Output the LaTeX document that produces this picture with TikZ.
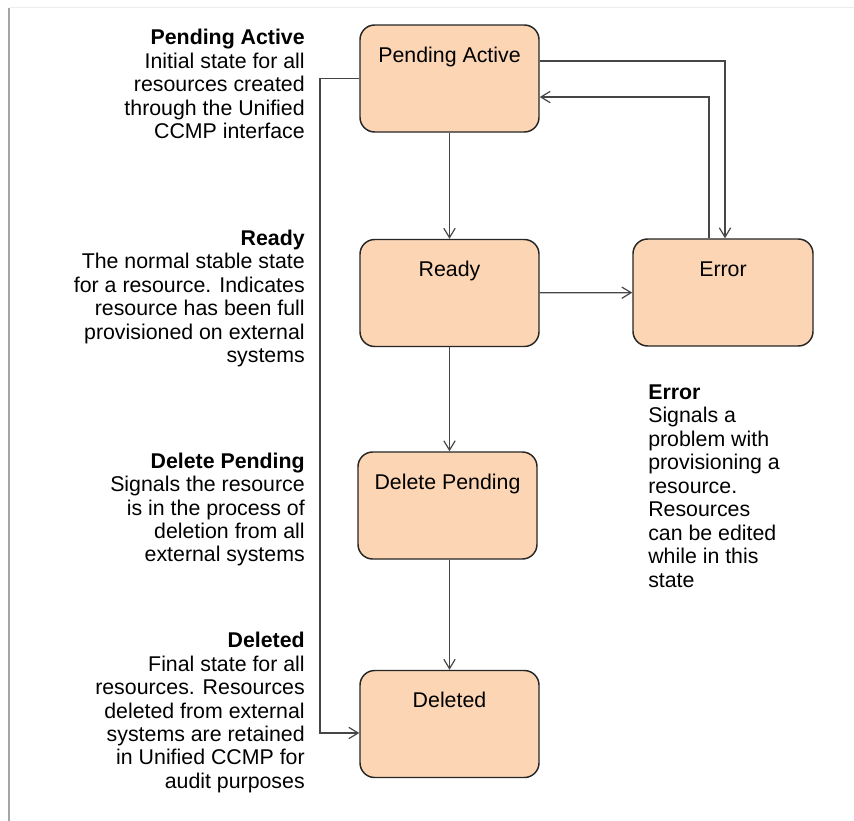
\documentclass[tikz,border=0pt]{standalone}
\usepackage{fontspec}
\setmainfont{Liberation Sans}
\usetikzlibrary{arrows.meta, positioning}
\definecolor{statefill}{RGB}{251, 213, 180}
\definecolor{linegray}{RGB}{70, 70, 70}
\definecolor{framegray}{RGB}{165, 165, 165}
\newcommand{\diagfont}{\fontsize{16}{17.6}\selectfont}

\begin{document}
\begin{tikzpicture}[x=0.75pt, y=-0.75pt,
  statebox/.style={draw=black!85, line width=1.1pt, fill=statefill, rounded corners=11pt,
    minimum width=134.25pt, inner sep=0pt, text height=27.75pt, text depth=52.5pt, font=\diagfont},
  note/.style={inner sep=0pt, font=\diagfont},
  flow/.style={draw=linegray, line width=0.9pt, -{Straight Barb[length=7pt, width=8.5pt]}}]
  \useasboundingbox (0, 0) rectangle (854, 821);

  % frame
  \draw[framegray, line width=1pt] (9, 821) -- (9, 7.5);
  \draw[black!7, line width=0.8pt] (9, 7.5) -- (854, 7.5);

  % states
  \node[statebox] (pending) at (449.5, 78.5) {Pending Active};
  \node[statebox] (ready) at (449.5, 293) {Ready};
  \node[statebox, minimum width=135pt] (error) at (723, 292.5) {Error};
  \node[statebox] (delpending) at (447.5, 505.5) {Delete Pending};
  \node[statebox] (deleted) at (449.5, 724) {Deleted};

  % descriptions
  \node[note, align=right, anchor=east] (pendingnote) at (305, 84)
    {\textbf{Pending Active}\\Initial state for all\\resources created\\through the Unified\\CCMP interface};
  \node[note, align=right, anchor=east] (readynote) at (305, 298.5)
    {\textbf{Ready}\\The normal stable state\\for a resource. Indicates\\resource has been full\\provisioned on external\\systems};
  \node[note, align=right, anchor=east] (delpendingnote) at (305, 509.5)
    {\textbf{Delete Pending}\\Signals the resource\\is in the process of\\deletion from all\\external systems};
  \node[note, align=right, anchor=east] (deletednote) at (305, 712.5)
    {\textbf{Deleted}\\Final state for all\\resources. Resources\\deleted from external\\systems are retained\\in Unified CCMP for\\audit purposes};
  \node[note, align=left, anchor=west] (errornote) at (648, 486)
    {\textbf{Error}\\Signals a\\problem with\\provisioning a\\resource.\\Resources\\can be edited\\while in this\\state};

  % transitions
  \coordinate (leftbus) at (320, 0);
  \draw[flow] (pending) -- (ready);
  \draw[flow] (ready) -- (error);
  \draw[flow] (ready.south) -- (ready.south |- delpending.north);
  \draw[flow] (deleted.north |- delpending.south) -- (deleted.north);
  \draw[flow] ([yshift=13.1pt]pending.east) -| ([xshift=1.5pt]error.north);
  \draw[flow] ([xshift=-10.5pt]error.north) |- ([yshift=-13.9pt]pending.east);
  \draw[flow] (pending.west) -- (pending.west -| leftbus) |- ([yshift=-6.75pt]deleted.west);
\end{tikzpicture}
\end{document}
